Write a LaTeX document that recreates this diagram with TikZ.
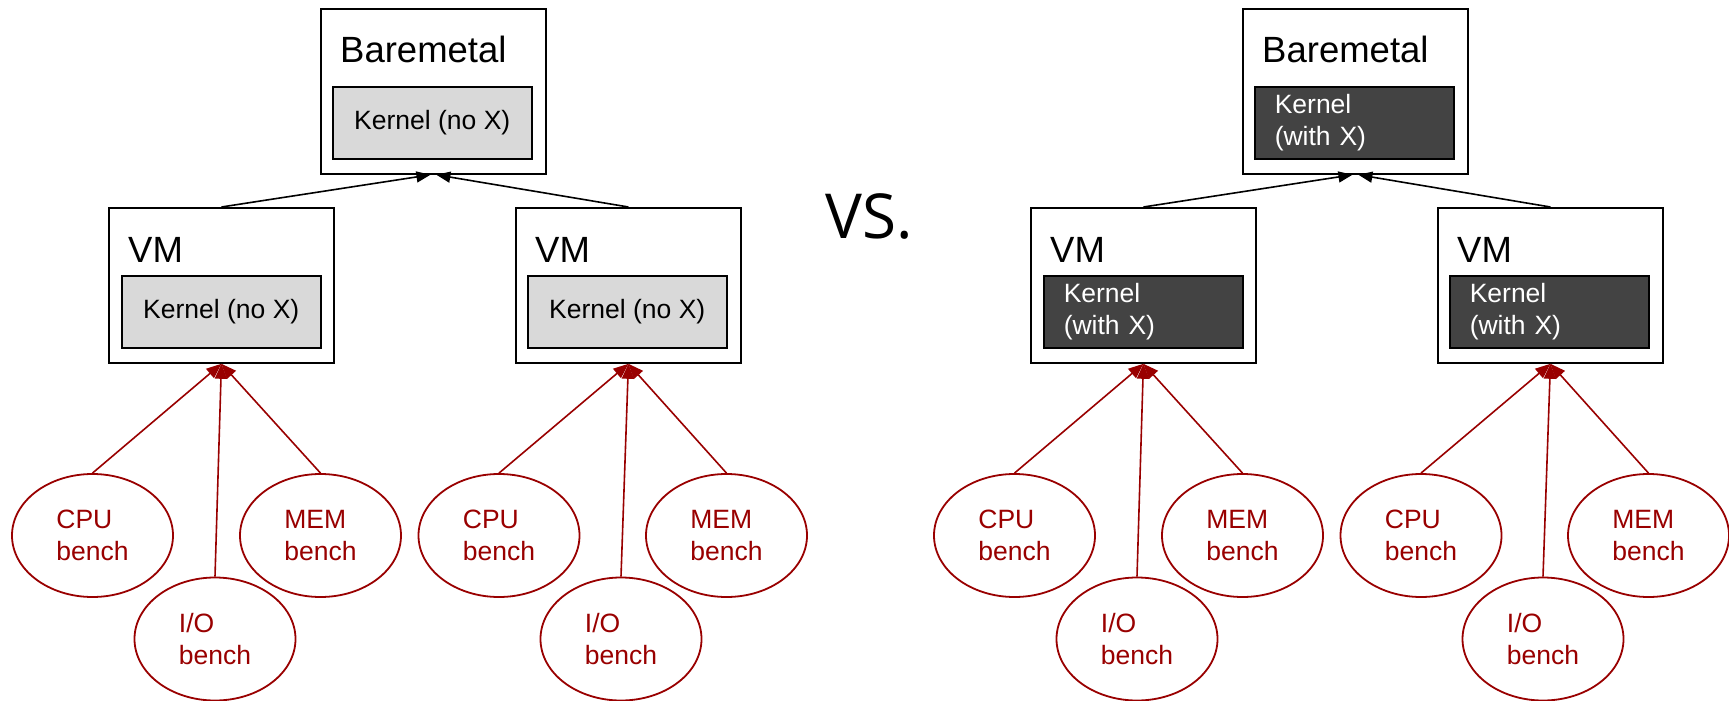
\documentclass[tikz,border=0pt]{standalone}
\usepackage{fontspec}
\setmainfont{Liberation Sans}
\newfontfamily\vsfont{Open Sans}
\usetikzlibrary{arrows.meta,shapes.geometric}
\definecolor{benchred}{HTML}{990000}
\definecolor{lightk}{HTML}{D9D9D9}
\definecolor{darkk}{HTML}{434343}
\tikzset{
  bmbox/.style={draw=black, line width=1.8pt, fill=white, anchor=north west, minimum width=225, minimum height=165, inner sep=0},
  vmbox/.style={draw=black, line width=1.8pt, fill=white, anchor=north west, minimum width=225, minimum height=155, inner sep=0},
  titletext/.style={anchor=base west, inner sep=0, font=\fontsize{36.5}{44}\selectfont},
  kernlight/.style={draw=black, line width=1.5pt, fill=lightk, anchor=north west, minimum width=199, minimum height=72, inner sep=0, font=\fontsize{26.5}{32}\selectfont},
  kerndark/.style={draw=black, line width=1.5pt, fill=darkk, text=white, anchor=north west, minimum width=199, minimum height=72, inner sep=0, align=left, text width=159, font=\fontsize{26.5}{32}\selectfont},
  bench/.style={ellipse, draw=benchred, line width=1.8pt, fill=white, text=benchred, minimum width=161, minimum height=123, inner sep=0, align=left, font=\fontsize{26.5}{32}\selectfont},
  blackarrow/.style={draw=black, line width=1.6pt, -{Triangle[length=14pt,width=11pt]}},
  redarrow/.style={draw=benchred, line width=1.6pt, -{Triangle[length=15pt,width=12pt]}},
}
\newcommand\halfdiag[4]{%
  \begin{scope}[xshift=#2]
    \node[bmbox] (#1bm) at (320,8) {};
    \node[titletext] (#1bmt) at (340,63) {Baremetal};
    \node[#3] (#1bmk) at (332,86) {#4};
    \node[vmbox] (#1vma) at (108,207) {};
    \node[titletext] (#1vmat) at (128,262) {VM};
    \node[#3] (#1vmak) at (121,275) {#4};
    \node[vmbox] (#1vmb) at (515,207) {};
    \node[titletext] (#1vmbt) at (535,262) {VM};
    \node[#3] (#1vmbk) at (527,275) {#4};
    \node[bench] (#1ca) at (92.5,535.5) {CPU\\bench};
    \node[bench] (#1ia) at (215,639) {I/O\\bench};
    \node[bench] (#1ma) at (320.5,535.5) {MEM\\bench};
    \node[bench] (#1cb) at (499,535.5) {CPU\\bench};
    \node[bench] (#1ib) at (621,639) {I/O\\bench};
    \node[bench] (#1mb) at (726.5,535.5) {MEM\\bench};
    \draw[blackarrow] (#1vma.north) -- ([xshift=-3]#1bm.south);
    \draw[blackarrow] (#1vmb.north) -- ([xshift=3]#1bm.south);
    \draw[redarrow] (#1ca.north) -- (#1vma.south);
    \draw[redarrow] (#1ia.north) -- (#1vma.south);
    \draw[redarrow] (#1ma.north) -- (#1vma.south);
    \draw[redarrow] (#1cb.north) -- (#1vmb.south);
    \draw[redarrow] (#1ib.north) -- (#1vmb.south);
    \draw[redarrow] (#1mb.north) -- (#1vmb.south);
  \end{scope}}
\begin{document}
\begin{tikzpicture}[x=1pt,y=-1pt]
  \fill[white] (0,0) rectangle (1729,701);
  \useasboundingbox (0,0) rectangle (1729,701);
  \halfdiag{L}{0}{kernlight}{Kernel (no X)}
  \halfdiag{R}{922}{kerndark}{Kernel\\(with X)}
  \node[anchor=base west, inner sep=0, font=\vsfont\fontsize{62}{70}\selectfont] (vs) at (825,238) {VS.};
\end{tikzpicture}
\end{document}
